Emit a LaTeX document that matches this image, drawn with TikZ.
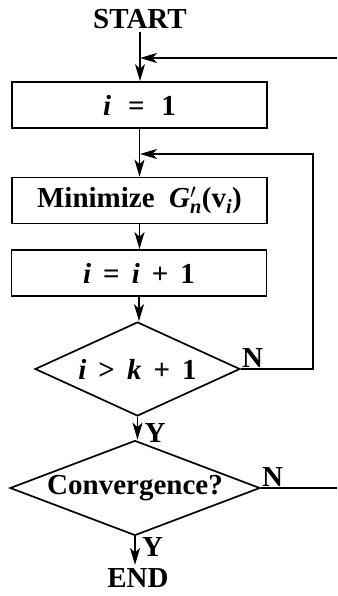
\documentclass[tikz,border=0pt]{standalone}
\usepackage{amsmath}
\usepackage{fontspec}
\setmainfont{Liberation Serif}
\usetikzlibrary{shapes.geometric,arrows.meta}

\newcommand{\vr}[1]{\textit{#1}}

\begin{document}
\begin{tikzpicture}[x=1pt,y=-1pt]
    \tikzstyle{flowbox}=[draw, line width=1.7pt, minimum width=255pt, minimum height=46pt, inner sep=0pt, font=\fontsize{29}{31}\selectfont\bfseries]
    \tikzstyle{decision}=[draw, diamond, line width=1.7pt, inner sep=0pt, font=\fontsize{29}{31}\selectfont\bfseries]
    \tikzstyle{flowarr}=[line width=1.7pt, -{Stealth[length=17pt,width=10pt,inset=4.5pt]}]
    \tikzstyle{lbl}=[font=\fontsize{29}{31}\selectfont\bfseries]

    \useasboundingbox (0,0) rectangle (337,596);

    % boxes and tests
    \node[lbl] (start) at (140,19) {START};
    \node[flowbox] (init) at (139.5,105) {\vr{i}\,\, = \,\,1};
    \node[flowbox] (minim) at (139.5,200.5) {Minimize\ \ \vr{G}$'_{\vr{n}}$(\textbf{v}$_{\vr{i}}$)};
    \node[flowbox] (incr) at (139,273) {\vr{i}\, = \,\vr{i}\, + \,1};
    \node[decision, aspect=2.18, minimum width=205pt, minimum height=94pt] (test) at (137.5,369) {\vr{i}\, > \,\vr{k}\, + \,1};
    \node[decision, aspect=2.63, minimum width=250pt, minimum height=95pt] (conv) at (135,488) {Convergence?};
    \node[lbl] (end) at (138,578) {END};

    % joins and loose ends
    \coordinate (join1) at (140,58);
    \coordinate (edge1) at (337,58);
    \coordinate (join2) at (140,154);
    \coordinate (corner) at (313,154);
    \coordinate (edge2) at (337,488);

    % main flow
    \draw[flowarr] (start.south) -- (start.south |- init.north);
    \draw[flowarr] (init.south) -- (init.south |- minim.north);
    \draw[flowarr] (minim.south) -- (minim.south |- incr.north);
    \draw[flowarr] (incr.south) -- (incr.south |- test.north);
    \draw[flowarr] (test.south) -- (test.south |- conv.north);
    \draw[flowarr] (conv.south) -- (conv.south |- end.north);

    % loops
    \draw[flowarr] (test.east) -| (corner) -- (join2);
    \draw[line width=1.7pt] (conv.east) -- (edge2);
    \draw[flowarr] (edge1) -- (join1);

    % branch labels
    \node[lbl, anchor=south west, inner sep=1pt] (n1) at (test.east) {N};
    \node[lbl, anchor=south west, inner sep=1pt] (n2) at (conv.east) {N};
    \node[lbl, anchor=west, inner sep=1pt] (y1) at ([xshift=6pt,yshift=-16pt]test.south) {Y};
    \node[lbl, anchor=west, inner sep=1pt] (y2) at ([xshift=6pt,yshift=-11pt]conv.south) {Y};
  \end{tikzpicture}
\end{document}
